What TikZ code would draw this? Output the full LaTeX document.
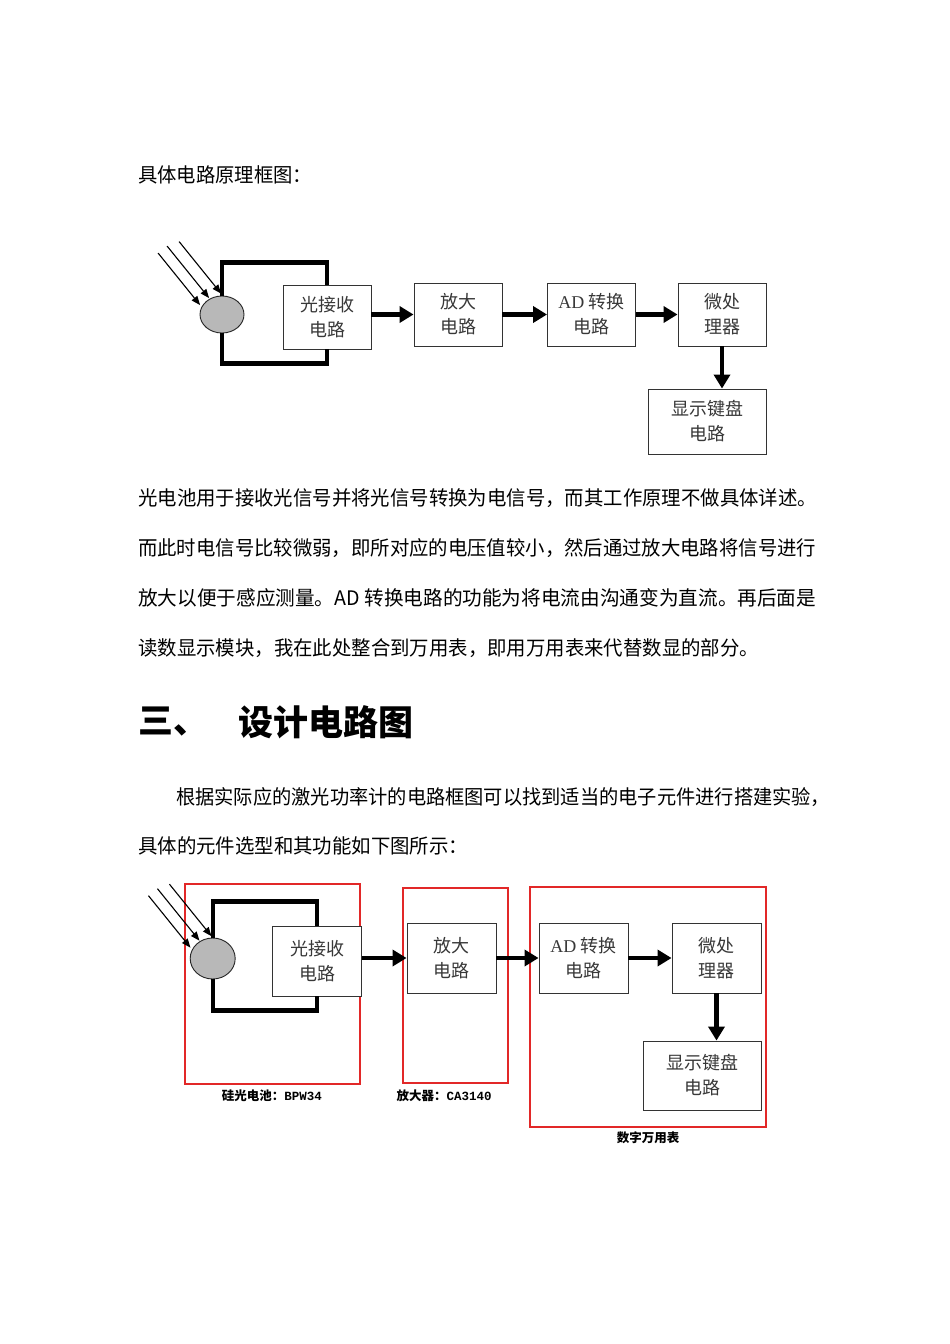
\documentclass[tikz,border=0pt]{standalone}
\usepackage{fontspec}
\setmainfont{Liberation Serif}
\newfontfamily\cjk{Noto Sans CJK SC}
\newfontfamily\cjkmono{Liberation Mono}
\usetikzlibrary{shapes.geometric,arrows.meta,positioning,calc}
\definecolor{framered}{RGB}{226,40,40}
\newcommand{\fitline}[2]{\resizebox{#1}{\height}{#2}}
\tikzstyle{bodytext} =[anchor=west, inner sep=0pt, font=\cjk\fontsize{20}{24}\selectfont]
\tikzstyle{heading}  =[anchor=west, inner sep=0pt, font=\cjk\bfseries\fontsize{35}{40}\selectfont]
\tikzstyle{block}    =[rectangle, draw=black!80, line width=0.9pt, fill=white, text=black!78,
                        align=center, inner sep=0pt, font=\cjk\fontsize{18}{25}\selectfont]
\tikzstyle{cell}     =[ellipse, draw=black!85, fill=black!28, line width=0.9pt, inner sep=0pt]
\tikzstyle{wire}     =[line width=4.2pt]
\tikzstyle{arr}      =[-{Triangle[length=14pt,width=16pt]}, line width=4.8pt]
\tikzstyle{ray}      =[-{Triangle[length=9pt,width=7pt]}, line width=1.1pt]
\tikzstyle{redframe} =[draw=framered, line width=1.2pt]
\tikzstyle{partlabel}=[inner sep=0pt, font=\cjk\bfseries\fontsize{12.5}{14}\selectfont]

\begin{document}
\begin{tikzpicture}[x=1pt, y=-1pt]
  \useasboundingbox[fill=white] (0,0) rectangle (950,1344);

  % ── text of the page ───────────────────────────────────────────────────────
  \node[bodytext] (intro)   at (138,175) {\fitline{174pt}{具体电路原理框图：}};
  \node[bodytext] (para1a)  at (138,498) {\fitline{679pt}{光电池用于接收光信号并将光信号转换为电信号，而其工作原理不做具体详述。}};
  \node[bodytext] (para1b)  at (138,548) {\fitline{678pt}{而此时电信号比较微弱，即所对应的电压值较小，然后通过放大电路将信号进行}};
  \node[bodytext] (para1c)  at (138,598) {\fitline{678pt}{放大以便于感应测量。AD 转换电路的功能为将电流由沟通变为直流。再后面是}};
  \node[bodytext] (para1d)  at (138,648) {\fitline{621pt}{读数显示模块，我在此处整合到万用表，即用万用表来代替数显的部分。}};
  \node[heading]  (secnum)  at (138,722) {三、};
  \node[heading]  (sectitle) at (238,722) {设计电路图};
  \node[bodytext] (para2a)  at (176,797) {\fitline{654pt}{根据实际应的激光功率计的电路框图可以找到适当的电子元件进行搭建实验，}};
  \node[bodytext] (para2b)  at (138,846) {\fitline{330pt}{具体的元件选型和其功能如下图所示：}};

  % ── first block diagram ────────────────────────────────────────────────────
  \node[cell, minimum width=44pt, minimum height=37pt] (cell1) at (222,314.5) {};
  \node[block, minimum width=88pt, minimum height=64pt]  (recv1) at (327,317)   {光接收\\电路};
  \node[block, minimum width=88pt, minimum height=63pt]  (amp1)  at (458,314.5) {放大\\电路};
  \node[block, minimum width=88pt, minimum height=63pt]  (adc1)  at (591.5,314.5) {{\rmfamily AD} 转换\\电路};
  \node[block, minimum width=88pt, minimum height=63pt]  (mcu1)  at (722,314.5) {微处\\理器};
  \node[block, minimum width=118pt, minimum height=65pt] (disp1) at (707,421.5) {显示键盘\\电路};

  \draw[wire] (cell1.north) |- ($(recv1.north)+(0,-22)$) -- (recv1.north);
  \draw[wire] (cell1.south) |- ($(recv1.south)+(0,14)$)  -- (recv1.south);
  \draw[arr] (recv1.east |- amp1.west) -- (amp1.west);
  \draw[arr] (amp1.east) -- (adc1.west);
  \draw[arr] (adc1.east) -- (mcu1.west);
  \draw[arr] (mcu1.south) -- (mcu1.south |- disp1.north);

  % ── second block diagram with the parts chosen ─────────────────────────────
  \draw[redframe] (185,884) rectangle (360,1084);
  \draw[redframe] (403,888) rectangle (508,1083);
  \draw[redframe] (530,887) rectangle (766,1127);

  \node[cell, minimum width=45pt, minimum height=41pt] (cell2) at (212.7,958.5) {};
  \node[block, minimum width=89pt, minimum height=70pt]  (recv2) at (317.3,961) {光接收\\电路};
  \node[block, minimum width=89pt, minimum height=70pt]  (amp2)  at (451.5,958) {放大\\电路};
  \node[block, minimum width=89pt, minimum height=70pt]  (adc2)  at (583.5,958) {{\rmfamily AD} 转换\\电路};
  \node[block, minimum width=89pt, minimum height=70pt]  (mcu2)  at (716.5,958) {微处\\理器};
  \node[block, minimum width=118pt, minimum height=69pt] (disp2) at (702,1075.5) {显示键盘\\电路};

  \draw[wire] (cell2.north) |- ($(recv2.north)+(0,-24)$) -- (recv2.north);
  \draw[wire] (cell2.south) |- ($(recv2.south)+(0,14)$)  -- (recv2.south);
  \draw[arr] (recv2.east |- amp2.west) -- (amp2.west);
  \draw[arr] (amp2.east) -- (adc2.west);
  \draw[arr] (adc2.east) -- (mcu2.west);
  \draw[arr] (mcu2.south) -- (mcu2.south |- disp2.north);

  \node[partlabel] (lblcell)  at (272,1096) {硅光电池：{\cjkmono\bfseries BPW34}};
  \node[partlabel] (lblamp)   at (444,1096) {放大器：{\cjkmono\bfseries CA3140}};
  \node[partlabel] (lblmeter) at (648,1138) {数字万用表};

  % ── incoming light on both cells ───────────────────────────────────────────
  \foreach \c in {cell1,cell2}
    \foreach \dx/\dy in {-6/4, 3/-3, 15/-7.5}
      \draw[ray] ($(\c.north west)+(\dx-42,\dy-52)$) -- ($(\c.north west)+(\dx,\dy)$);

\end{tikzpicture}
\end{document}
